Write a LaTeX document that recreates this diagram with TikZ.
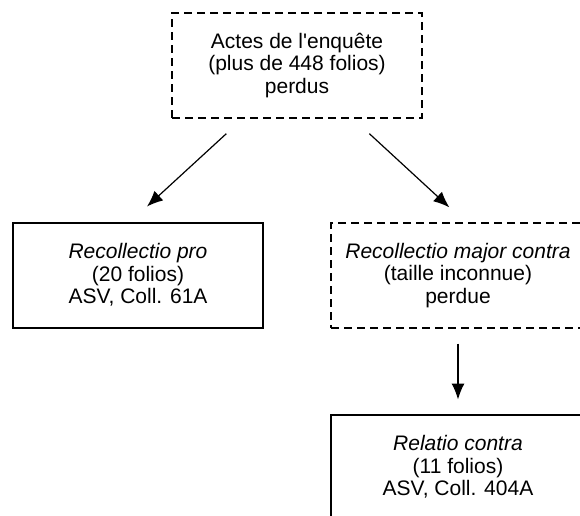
\documentclass[tikz,border=0pt]{standalone}
\usepackage{fontspec}
\setmainfont{Liberation Sans}
\usetikzlibrary{arrows.meta}
\tikzset{
  lost/.style={draw, dash pattern=on 8pt off 5pt, line width=1.3pt,
    minimum width=250pt, minimum height=105pt, inner sep=0pt,
    align=center, font=\fontsize{21}{22.5}\selectfont},
  kept/.style={lost, solid, line width=2pt},
  flow/.style={-{Latex[length=16pt,width=13pt]}, line width=1.2pt}
}
\begin{document}
\begin{tikzpicture}[x=1pt,y=-1pt]
        \useasboundingbox (0,0) rectangle (580,515);
        \node[lost] (actes) at (297,65.5) {Actes de l\textquotesingle enquête\\(plus de 448 folios)\\perdus};
        \node[kept] (pro) at (138,275) {\textit{Recollectio pro}\\(20 folios)\\ASV, Coll. 61A};
        \node[lost, minimum width=254pt] (major) at (458,275.5) {\textit{Recollectio major contra}\\(taille inconnue)\\perdue};
        \node[kept, minimum width=254pt] (relatio) at (458,467) {\textit{Relatio contra}\\(11 folios)\\ASV, Coll. 404A};
        \draw[flow] ([xshift=55pt,yshift=-15pt]actes.south west) -- ([xshift=135pt,yshift=15pt]pro.north west);
        \draw[flow] ([xshift=198pt,yshift=-15pt]actes.south west) -- ([xshift=119pt,yshift=15pt]major.north west);
        \draw[flow] ([yshift=-15pt]major.south) -- ([yshift=14pt]relatio.north);
    \end{tikzpicture}
\end{document}
